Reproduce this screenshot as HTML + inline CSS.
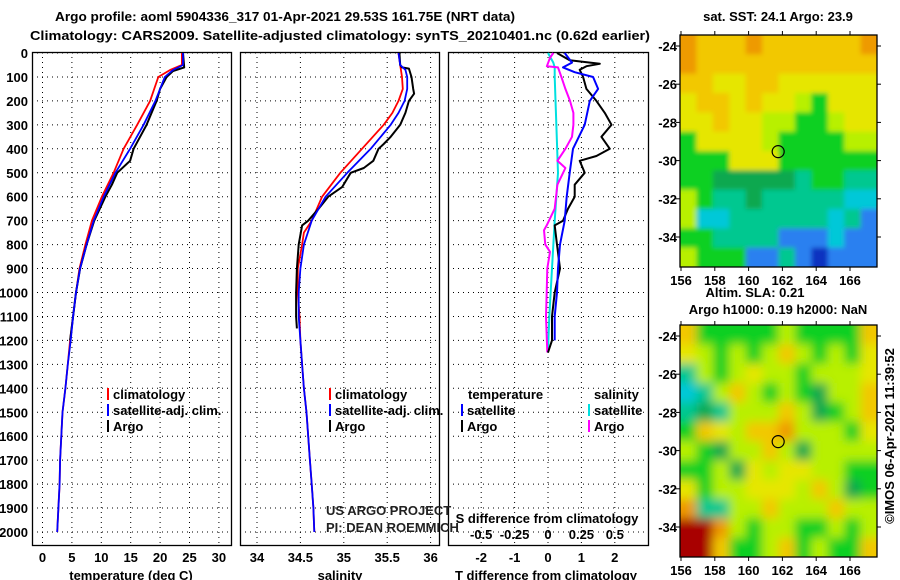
<!DOCTYPE html>
<html><head><meta charset="utf-8"><style>
body{margin:0;background:#fff;}
svg{display:block;font-family:"Liberation Sans",sans-serif;}
.b{font-weight:bold;font-size:13px;}
</style></head><body>
<svg id="c" width="900" height="580" viewBox="0 0 900 580" xmlns="http://www.w3.org/2000/svg">
<defs>
<filter id="blur1"><feGaussianBlur stdDeviation="2.5"/></filter>
<filter id="blur2"><feGaussianBlur stdDeviation="5"/></filter>
<clipPath id="m1c"><rect x="680" y="35" width="197" height="232"/></clipPath>
<clipPath id="m2c"><rect x="680" y="325" width="197" height="232"/></clipPath>
<clipPath id="p1c"><rect x="32" y="52" width="199" height="493"/></clipPath>
<clipPath id="p2c"><rect x="240" y="52" width="199" height="493"/></clipPath>
<clipPath id="p3c"><rect x="448" y="52" width="200" height="493"/></clipPath>
</defs>
<text class="b" x="55" y="21" textLength="460" lengthAdjust="spacingAndGlyphs">Argo profile: aoml 5904336_317 01-Apr-2021 29.53S 161.75E (NRT data)</text>
<text class="b" x="30" y="40" textLength="620" lengthAdjust="spacingAndGlyphs">Climatology: CARS2009. Satellite-adjusted climatology: synTS_20210401.nc (0.62d earlier)</text>
<g id="g"></g>
</svg>
<script>
// ---- data ----
const tDepth = [0,50,71,100,200,300,400,500,600,700,800,900,1000,1100,1200,1300,1400,1500,1600,1700,1800,1900,2000];
const tClim  = [23.7,23.7,21.7,19.7,18.3,16.1,13.8,12.1,10.1,8.4,7.3,6.3,5.7,5.2,4.7,4.3,3.9,3.4,3.2,3.0,2.9,2.7,2.5];
const tSat   = [23.9,23.9,22.2,20.8,19.2,17.2,14.9,12.4,10.4,8.7,7.5,6.4,5.7,5.2,4.8,4.3,3.9,3.4,3.2,3.0,2.9,2.7,2.5];
const tArgoDepth = [0,60,75,100,150,200,300,400,450,500,550,600,700,800,900,1000,1100,1200];
const tArgo  = [23.9,24.1,22.2,21.1,20.0,19.4,17.7,15.5,14.9,12.7,11.8,10.7,8.8,7.5,6.4,5.7,5.2,4.7];

const sDepth = [0,50,100,150,200,250,300,400,500,600,700,750,800,900,1000,1100,1200,1300,1400,1500,1600,1700,1800,1900,2000];
const sClim  = [35.63,35.65,35.67,35.68,35.63,35.56,35.46,35.21,34.96,34.75,34.63,34.54,34.52,34.47,34.47,34.49,34.5,34.52,34.54,34.57,34.59,34.61,34.63,34.65,34.66];
const sSatDepth = [0,50,70,100,150,200,250,300,400,500,600,700,800,900,1000,1100,1200,1300,1400,1500,1600,1700,1800,1900,2000];
const sSat   = [35.63,35.65,35.71,35.73,35.73,35.70,35.63,35.54,35.31,35.04,34.79,34.63,34.54,34.5,34.48,34.48,34.5,34.52,34.54,34.57,34.59,34.61,34.63,34.65,34.66];
const sArgoDepth = [0,50,60,65,100,150,170,200,250,300,350,380,400,450,480,500,560,600,650,700,720,800,900,1000,1100,1150];
const sArgo  = [35.64,35.65,35.67,35.75,35.78,35.8,35.81,35.75,35.71,35.65,35.54,35.46,35.4,35.34,35.23,35.08,34.98,34.82,34.71,34.59,34.52,34.48,34.46,34.45,34.45,34.46];

const dtSatDepth = [0,40,60,80,100,150,200,300,400,500,600,700,800,900,1000,1100,1200];
const dtSat  = [0.5,0.72,0.45,0.8,1.35,1.5,1.25,1.1,0.75,0.65,0.56,0.5,0.36,0.3,0.27,0.2,0.2];
const dtArgoDepth = [0,30,45,55,70,100,150,200,250,300,350,400,430,450,500,550,600,650,700,720,800,900,1000,1100,1200,1250];
const dtArgo = [0.27,0.65,1.55,1.15,0.95,1.05,1.15,1.45,1.7,1.9,1.6,1.85,1.45,0.95,1.1,0.8,0.8,0.6,0.45,0.2,0.27,0.36,0.2,0.12,0.12,0];
const dsSatDepth = [0,40,60,100,500,700,900,1100,1250];
const dsSat  = [0,0.04,0.05,0.05,0.075,0.05,0.03,0.01,0];
const dsArgoDepth = [0,20,55,60,100,150,200,250,300,350,400,450,480,550,650,720,740,800,830,900,1000,1100,1250];
const dsArgo = [0.04,0.015,-0.008,0.075,0.1,0.13,0.165,0.19,0.19,0.18,0.13,0.07,0.13,0.07,0.05,-0.01,-0.03,-0.02,0.015,-0.005,-0.01,-0.015,-0.005];

const depthTicks = [0,100,200,300,400,500,600,700,800,900,1000,1100,1200,1300,1400,1500,1600,1700,1800,1900,2000];
const tTicks = [0,5,10,15,20,25,30];
const sTicks = [34,34.5,35,35.5,36];
const sTickLabels = ['34','34.5','35','35.5','36'];
const dtTicks = [-2,-1,0,1,2];
const dsTicks = [-0.5,-0.25,0,0.25,0.5];
const dsTickLabels = ['-0.5','-0.25','0','0.25','0.5'];
const lonTicks = [156,158,160,162,164,166];
const latTicks = [-24,-26,-28,-30,-32,-34];
const argoLon = 161.75, argoLat = -29.53;

const sstGrid = [
"oYYYoYYYYYYo","oYYYYYYYYYYY","YYyyYYyyyyyy","yYYyYyylgyyy","yyYyyllggl yy".replace(' ',''),
"gyyyylggggl l".replace(' ',''),"gggyyygggggg","ggGGGGGtggtt","lgttGtttttcc","lccttttttctb","ggttttbbbcbb","lgggbbtbBbbb"];
const slaGrid = [
"YgggggIgggg Y".replace(' ','').replace('I','l'),"ylglglYlglgy","tlglyllglll y".replace(' ',''),"ctlYlglgGllY","tGtlllYlGglY",
"gYylYYolllgy","lgGllYlGllll","gglGylyyllgg","ygllyyylYlGg","ottllYlllYll","RRolgllgglgl","RRYgglYglggY"];
const pal = {o:'#ee9a00',Y:'#f2c800',y:'#e6e600',l:'#b8f000',g:'#10d020',G:'#10a850',t:'#00c890',c:'#00c8d8',b:'#2a80f0',B:'#0a30c0',R:'#a80000'};

// ---- scales ----
const yD = d => 53 + d*0.2395;
const xT = t => 42.5 + t*5.88;
const xS = s => 257 + (s-34)*86.8;
const xdT = v => 548 + v*33.4;
const xdS = v => 548 + v*133.6;
const mX = lon => 681 + (lon-156)*16.9;
const mY1 = lat => 46 + (-24-lat)*19.1;
const mY2 = lat => 336 + (-24-lat)*19.1;

const NS='http://www.w3.org/2000/svg';
const G=document.getElementById('g');
function mk(tag,attrs,parent){const e=document.createElementNS(NS,tag);for(const k in attrs)e.setAttribute(k,attrs[k]);(parent||G).appendChild(e);return e;}
function txt(x,y,s,anchor,cls,parent){const e=mk('text',{x:x,y:y,'text-anchor':anchor||'middle','class':cls||'b'},parent);e.textContent=s;return e;}

const panels=[{x:32,w:199,clip:'p1c',name:'temperature'},{x:240,w:199,clip:'p2c',name:'salinity'},{x:448,w:200,clip:'p3c',name:'difference'}];
const vgrid=[tTicks.map(xT),sTicks.map(xS),dtTicks.map(xdT)];
panels.forEach((p,i)=>{
  const pg=mk('g',{});
  
  
  depthTicks.forEach(d=>{const l=mk('line',{x1:p.x,x2:p.x+p.w,y1:yD(d),y2:yD(d),stroke:'#000','stroke-dasharray':'1,4','stroke-width':1},pg);
    
    });
  vgrid[i].forEach(x=>{const l=mk('line',{x1:x,x2:x,y1:52,y2:545,stroke:'#000','stroke-dasharray':'1,4','stroke-width':1},pg);
    
    });
  const r=mk('rect',{x:p.x+0.5,y:52.5,width:p.w,height:493,fill:'none',stroke:'#000','stroke-width':1.3},pg);
  
  
});
depthTicks.forEach(d=>{const t=txt(28,yD(d)+5,String(d),'end');
  
  });
tTicks.forEach(v=>{const t=txt(xT(v),562,String(v));
  
  });
sTicks.forEach((v,i)=>{const t=txt(xS(v),562,sTickLabels[i]);
  
  });
dtTicks.forEach(v=>{const t=txt(xdT(v),562,String(v));
  
  });
dsTicks.forEach((v,i)=>{const t=txt(xdS(v),539,dsTickLabels[i]);
  
  });
[[131,'temperature (deg C)','x-axis-title-temperature'],[340,'salinity','x-axis-title-salinity'],[546,'T difference from climatology','x-axis-title-t-diff']].forEach(a=>{
  const t=txt(a[0],580,a[1]);
  
  });
{const t=txt(547,523,'S difference from climatology');
 
 }

function line(ds,vs,xf,color,w,clip,name){
  const pts=ds.map((d,i)=>xf(vs[i]).toFixed(1)+','+yD(d).toFixed(1)).join(' ');
  const e=mk('polyline',{points:pts,fill:'none',stroke:color,'stroke-width':w,'clip-path':'url(#'+clip+')','stroke-linejoin':'round'});
  
  
}
line(tDepth,tClim,xT,'#ff0000',1.8,'p1c','temperature-climatology-line');
line(tArgoDepth,tArgo,xT,'#000',2,'p1c','temperature-argo-line');
line(tDepth,tSat,xT,'#0000ff',1.8,'p1c','temperature-satellite-line');
line(sDepth,sClim,xS,'#ff0000',1.8,'p2c','salinity-climatology-line');
line(sArgoDepth,sArgo,xS,'#000',2,'p2c','salinity-argo-line');
line(sSatDepth,sSat,xS,'#0000ff',1.8,'p2c','salinity-satellite-line');
line(dsSatDepth,dsSat,xdS,'#00e0e0',2,'p3c','s-diff-satellite-line');
line(dsArgoDepth,dsArgo,xdS,'#ff00ff',2,'p3c','s-diff-argo-line');
line(dtArgoDepth,dtArgo,xdT,'#000',2,'p3c','t-diff-argo-line');
line(dtSatDepth,dtSat,xdT,'#0000ff',2,'p3c','t-diff-satellite-line');

// legends
function leg(x,y,color,label,name){
  const r=mk('rect',{x:x,y:y-11,width:2,height:12,fill:color});
  
  
  const t=txt(x+6,y,label,'start');
  
  
}
leg(107,399,'#ff0000','climatology','legend-temp-climatology');
leg(107,415,'#0000ff','satellite-adj. clim.','legend-temp-satellite');
leg(107,431,'#000','Argo','legend-temp-argo');
leg(329,399,'#ff0000','climatology','legend-sal-climatology');
leg(329,415,'#0000ff','satellite-adj. clim.','legend-sal-satellite');
leg(329,431,'#000','Argo','legend-sal-argo');
{const t=txt(468,399,'temperature','start');}
{const t=txt(594,399,'salinity','start');}
leg(461,415,'#0000ff','satellite','legend-tdiff-satellite');
leg(461,431,'#000','Argo','legend-tdiff-argo');
leg(588,415,'#00e0e0','satellite','legend-sdiff-satellite');
leg(588,431,'#ff00ff','Argo','legend-sdiff-argo');
{const t=txt(326,515,'US ARGO PROJECT','start','');t.setAttribute('font-size','12');t.setAttribute('fill','#222');}
{const t=txt(326,532,'PI: DEAN ROEMMICH','start','');t.setAttribute('font-size','12');t.setAttribute('fill','#222');}

// maps
function map(grid,top,mY,clip,blur,name){
  const mg=mk('g',{'clip-path':'url(#'+clip+')'});
  
  
  const inner=mk('g',{filter:'url(#'+blur+')'},mg);
  const cw=197/12, ch=232/12;
  grid.forEach((row,r)=>{[...row].forEach((k,c)=>{
    mk('rect',{x:680+c*cw-(c==0?10:0),y:top+r*ch-(r==0?10:0),width:cw+1+(c==0||c==11?10:0),height:ch+1+(r==0||r==11?10:0),fill:pal[k]||'#b8f000'},inner);});});
  const fr=mk('rect',{x:680,y:top,width:197,height:232,fill:'none',stroke:'#000','stroke-width':1.3});
  
  
  lonTicks.forEach(v=>{mk('line',{x1:mX(v),x2:mX(v),y1:top,y2:top-4,stroke:'#000'});mk('line',{x1:mX(v),x2:mX(v),y1:top+232,y2:top+236,stroke:'#000'});
    const t=txt(mX(v),top+250,String(v));});
  latTicks.forEach(v=>{mk('line',{x1:680,x2:676,y1:mY(v),y2:mY(v),stroke:'#000'});mk('line',{x1:877,x2:881,y1:mY(v),y2:mY(v),stroke:'#000'});
    const t=txt(677,mY(v)+5,String(v),'end');});
  const c=mk('circle',{cx:mX(argoLon),cy:mY(argoLat),r:6,fill:'none',stroke:'#000','stroke-width':1.2});
  
  
}
map(sstGrid,35,mY1,'m1c','blur1','sst-map');
map(slaGrid,325,mY2,'m2c','blur2','sla-map');
{const t=txt(778,21,'sat. SST: 24.1 Argo: 23.9');}
{const t=txt(755,297,'Altim. SLA: 0.21');}
{const t=txt(778,314,'Argo h1000: 0.19 h2000: NaN');}
{const t=txt(0,0,'©IMOS 06-Apr-2021 11:39:52','middle','');t.setAttribute('font-size','13');t.setAttribute('transform','translate(894,436) rotate(-90)');}
</script>
</body></html>
